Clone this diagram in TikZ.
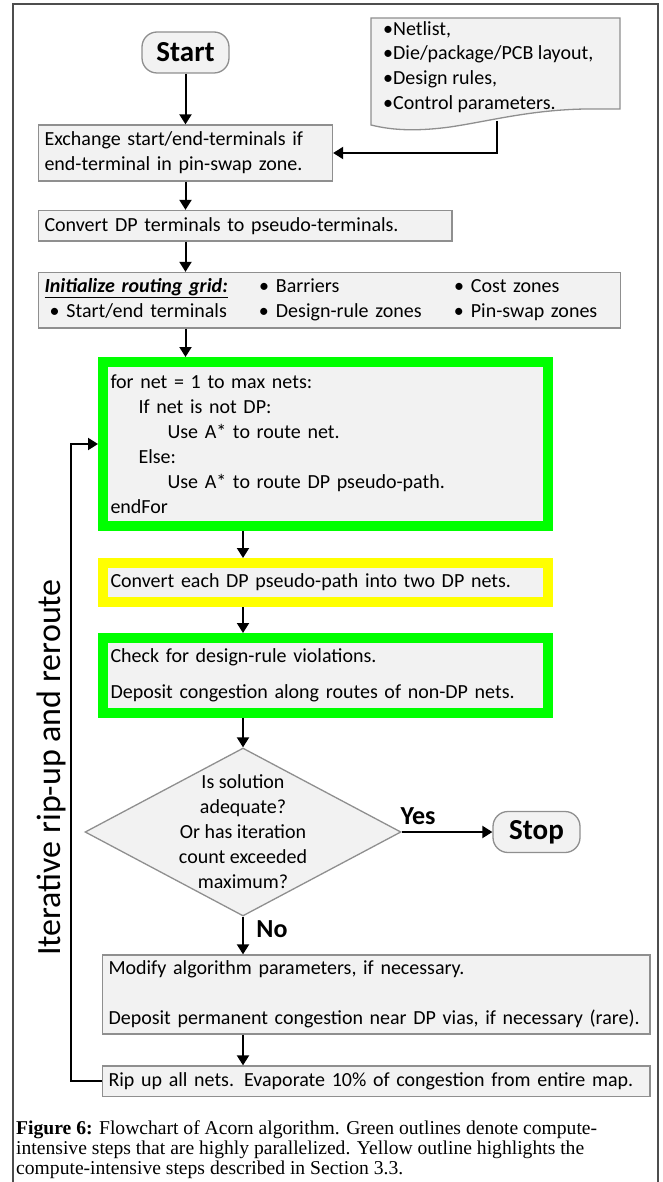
\documentclass[tikz,border=0pt]{standalone}
\usepackage{fontspec}
\setmainfont{Carlito}
\newfontfamily\capfont{Liberation Serif}
\usetikzlibrary{shapes, arrows.meta}
\definecolor{boxfill}{HTML}{F2F2F2}
\definecolor{boxgray}{HTML}{8F8F8F}
\definecolor{framegray}{HTML}{4D4D4D}
\definecolor{hotgreen}{HTML}{00FF00}
\definecolor{hotyellow}{HTML}{FFFF00}
\newcommand{\flowsize}{\fontsize{20}{25}\selectfont}

\begin{document}
\begin{tikzpicture}[x=1pt, y=-1pt,
    proc/.style = {draw=boxgray, fill=boxfill, line width=1.3pt, inner xsep=6pt, inner ysep=0pt, align=left, font=\flowsize},
    term/.style = {draw=boxgray, fill=boxfill, line width=1.3pt, rounded corners=15pt, minimum width=87pt, minimum height=41pt, inner sep=0pt, font=\bfseries\fontsize{29}{30}\selectfont},
    hot/.style = {proc, draw=hotgreen, line width=10pt, outer sep=5pt, inner xsep=7.5pt, text width=430pt},
    warm/.style = {hot, draw=hotyellow},
    decision/.style = {diamond, draw=boxgray, fill=boxfill, line width=1.3pt, minimum width=316pt, minimum height=168pt, inner sep=0pt},
    answer/.style = {font=\bfseries\fontsize{26}{30}\selectfont, inner sep=0pt},
    flow/.style = {-{Triangle[length=10pt, width=12pt]}, line width=2pt}]
                \useasboundingbox (0,0) rectangle (662,1182);
                \draw[framegray, line width=1.3pt] (13,1190) -- (13,4) -- (658,4) -- (658,1190);

                \draw[boxgray, fill=boxfill, line width=1.3pt] (371,18) -- (620,18) -- (620,109) -- (585,109)
                    .. controls (530,110) and (490,121) .. (450,127)
                    .. controls (420,131) and (395,131) .. (371,125) -- cycle;
                \node[align=left, anchor=west, inner xsep=6pt, font=\fontsize{20}{24.7}\selectfont] at (377,67) (inputs)
                    {•Netlist,\\•Die/package/PCB layout,\\•Design rules,\\•Control parameters.};
                \coordinate (docfoot) at (497,121);

                \node[term] at (185.5,52.5) (start) {Start};
                \node[proc, text width=282pt, minimum height=56pt] at (185.5,153) (exch)
                    {Exchange start/end-terminals if\\end-terminal in pin-swap zone.};
                \node[proc, text width=401.5pt, minimum height=30.5pt] at (245.25,225.75) (dpterm)
                    {Convert DP terminals to pseudo-terminals.};
                \node[proc, text width=570pt, minimum height=55.5pt] at (329.5,300.25) (grid) {%
                    \begin{tabular}{@{}p{214.5pt}@{}p{195pt}@{}l@{}}
                    \textbf{\textit{\underline{Initialize routing grid:}}} & \textbullet\hspace{7pt}Barriers & \textbullet\hspace{7pt}Cost zones\\
                    \hspace*{5pt}\textbullet\hspace{7pt}Start/end terminals & \textbullet\hspace{7pt}Design-rule zones & \textbullet\hspace{7pt}Pin-swap zones
                    \end{tabular}};
                \node[hot, minimum height=164pt] at (325.5,444) (forloop)
                    {for net = 1 to max nets:\\
                     \hspace*{28pt}If net is not DP:\\
                     \hspace*{57pt}Use A* to route net.\\
                     \hspace*{28pt}Else:\\
                     \hspace*{57pt}Use A* to route DP pseudo-path.\\
                     endFor};
                \node[warm, minimum height=39pt] at (325.5,582.5) (pairs)
                    {Convert each DP pseudo-path into two DP nets.};
                \node[hot, minimum height=75pt] at (325.5,675.5) (check)
                    {Check for design-rule violations.\\[11pt]Deposit congestion along routes of non-DP nets.};
                \node[decision, label={[align=center, font=\flowsize]center:{Is solution\\adequate?\\Or has iteration\\count exceeded\\maximum?}}] at (243,832) (decide) {};
                \node[term] at (536.5,832) (stop) {Stop};
                \node[proc, text width=535.5pt, minimum height=79pt] at (376.25,994.5) (modify)
                    {Modify algorithm parameters, if necessary.\\[25pt]Deposit permanent congestion near DP vias, if necessary (rare).};
                \node[proc, text width=535.5pt, minimum height=30.5pt] at (376.25,1081.25) (rip)
                    {Rip up all nets. Evaporate 10\% of congestion from entire map.};

                \node[answer] at (418,816) (yes) {Yes};
                \node[answer] at (272,929) (no) {No};
                \node[rotate=90, anchor=base, inner sep=0pt, font=\fontsize{34}{40}\selectfont] at (60,767.5) (looplabel)
                    {Iterative rip-up and reroute};

                \node[anchor=north west, align=left, inner sep=0pt, font=\capfont\fontsize{19.6}{20.3}\selectfont] at (16,1120) (caption)
                    {\textbf{Figure 6:} Flowchart of Acorn algorithm. Green outlines denote compute-\\
                     intensive steps that are highly parallelized. Yellow outline highlights the\\
                     compute-intensive steps described in Section 3.3.};

                \draw[flow] (start) -- (exch);
                \draw[flow] (docfoot) |- (exch);
                \draw[flow] (exch.south) -- (exch.south |- dpterm.north);
                \draw[flow] (dpterm.south -| start) -- (grid.north -| start);
                \draw[flow] (grid.south -| start) -- (forloop.north -| start);
                \draw[flow] (forloop.south -| decide) -- (pairs.north -| decide);
                \draw[flow] (pairs.south -| decide) -- (check.north -| decide);
                \draw[flow] (check.south -| decide) -- (decide.north);
                \draw[flow] (decide.east) -- (stop);
                \draw[flow] (decide.south) -- (modify.north -| decide);
                \draw[flow] (modify.south -| decide) -- (rip.north -| decide);
                \draw[flow] (rip.west) -- ++(-31,0) |- (forloop.west);
            \end{tikzpicture}
\end{document}
